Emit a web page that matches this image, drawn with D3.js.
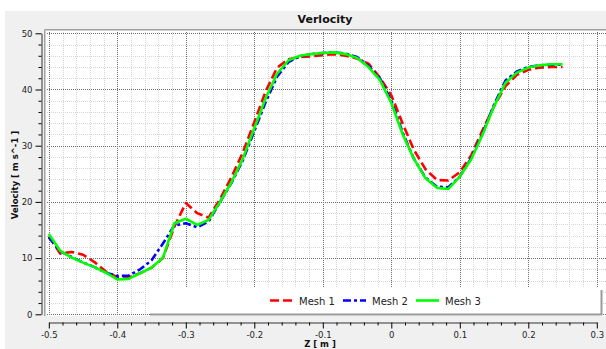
<!DOCTYPE html>
<html><head><meta charset="utf-8">
<script src="https://cdn.jsdelivr.net/npm/d3@7"></script>
<style>
body{margin:0;background:#fff}
svg{display:block}
text{font-family:"DejaVu Sans",Verdana,sans-serif}
</style>
</head><body>
<svg id="c" width="606" height="349"></svg>
<script>
const zValues=[-0.5,-0.4833,-0.4667,-0.45,-0.4333,-0.4167,-0.4,-0.3833,-0.3667,-0.35,-0.3333,-0.3167,-0.3,-0.2833,-0.2667,-0.25,-0.2333,-0.2167,-0.2,-0.1833,-0.1667,-0.15,-0.1333,-0.1167,-0.1,-0.0833,-0.0667,-0.05,-0.0333,-0.0167,0,0.0167,0.0333,0.05,0.0667,0.0833,0.1,0.1167,0.1333,0.15,0.1667,0.1833,0.2,0.2167,0.2333,0.25];
const mesh1=[13.9,10.8,11.1,10.6,9.3,7.6,6.6,6.6,7.3,8.3,10.0,15.6,19.8,18.0,17.2,20.5,24.4,28.8,34.2,39.7,43.9,45.4,45.8,45.9,46.1,46.3,46.0,45.5,44.6,42.1,39.0,33.9,29.2,25.8,23.9,23.8,25.3,28.3,32.8,37.0,40.6,42.6,43.5,43.9,44.0,44.0];
const mesh2=[13.7,11.2,10.2,9.2,8.4,7.4,6.8,6.9,8.0,9.6,12.6,15.8,16.2,15.5,16.5,20.0,23.4,27.4,32.6,37.8,42.3,44.9,45.9,46.3,46.5,46.6,46.4,45.8,44.2,42.0,38.0,32.3,27.6,24.3,22.7,22.6,24.5,27.8,32.2,37.3,41.6,43.2,44.0,44.3,44.4,44.4];
const mesh3=[14.3,11.3,10.1,9.2,8.4,7.4,6.2,6.3,7.3,8.3,10.1,16.2,17.0,15.9,16.8,20.0,23.5,27.7,33.1,38.5,42.8,45.2,46.0,46.3,46.5,46.6,46.3,45.6,44.0,41.7,37.6,32.0,27.6,24.2,22.5,22.3,24.5,27.6,32.0,37.0,41.2,43.0,43.9,44.3,44.5,44.5];
const seriesNames=["Mesh 1","Mesh 2","Mesh 3"];
const seriesColors=["#ff0000","#0000ff","#00ff00"];
const seriesDash=["9,4","8,3,3,3",null];
const xTickValues=[-0.5,-0.4,-0.3,-0.2,-0.1,0,0.1,0.2,0.3];
const xTickLabels=["-0.5","-0.4","-0.3","-0.2","-0.1","0","0.1","0.2","0.3"];
const yTickValues=[0,10,20,30,40,50];
const titleText="Verlocity";
const xLabel="Z [ m ]";
const yLabel="Velocity [ m s^-1 ]";

const svg=d3.select("#c");
// panel background
svg.append("rect").attr("x",5).attr("y",11).attr("width",601).attr("height",338).attr("fill","#f0f0f0");

const P={l:44,t:29,r:606,b:316};
const x=d3.scaleLinear().domain([-0.5,0.3]).range([48.8,596.8]);
const y=d3.scaleLinear().domain([0,50]).range([314.3,33.3]);

// plot area
svg.append("rect").attr("x",P.l).attr("y",P.t).attr("width",P.r-P.l).attr("height",P.b-P.t).attr("fill","#fff");

const grid=svg.append("g");
const minorX=d3.range(-25,16).map(i=>i*0.02);
const minorY=d3.range(0,26).map(i=>i*2);
grid.selectAll(".mvx").data(minorX).join("line")
  .attr("x1",d=>Math.round(x(d))+0.5).attr("x2",d=>Math.round(x(d))+0.5)
  .attr("y1",P.t+1).attr("y2",P.b)
  .attr("stroke","#d6d6d6").attr("stroke-dasharray","1,1");
grid.selectAll(".mhy").data(minorY).join("line")
  .attr("y1",d=>Math.round(y(d))+0.5).attr("y2",d=>Math.round(y(d))+0.5)
  .attr("x1",P.l+1).attr("x2",P.r)
  .attr("stroke","#d6d6d6").attr("stroke-dasharray","1,1");
grid.selectAll(".vx").data(xTickValues).join("line")
  .attr("x1",d=>Math.round(x(d))+0.5).attr("x2",d=>Math.round(x(d))+0.5)
  .attr("y1",P.t+1).attr("y2",P.b)
  .attr("stroke","#6e6e6e").attr("stroke-dasharray","1,1");
grid.selectAll(".hy").data(yTickValues).join("line")
  .attr("y1",d=>Math.round(y(d))+0.5).attr("y2",d=>Math.round(y(d))+0.5)
  .attr("x1",P.l+1).attr("x2",P.r)
  .attr("stroke","#6e6e6e").attr("stroke-dasharray","1,1");

// frame (inset)
svg.append("path").attr("d",`M${P.l+0.5},${P.b}V${P.t+0.5}H${P.r}`).attr("fill","none").attr("stroke","#a0a0a0");
svg.append("path").attr("d",`M${P.l+1.5},${P.b}V${P.t+1.5}H${P.r}`).attr("fill","none").attr("stroke","#cfcfcf");

// clip
svg.append("clipPath").attr("id","clip").append("rect").attr("x",P.l+2).attr("y",P.t+2).attr("width",P.r-P.l-2).attr("height",P.b-P.t-2);

const series=[mesh1,mesh2,mesh3];
const line=d3.line().x(d=>x(d[0])).y(d=>y(d[1]));
const lg=svg.append("g").attr("clip-path","url(#clip)");
series.forEach((vals,i)=>{
  lg.append("path").datum(zValues.map((z,j)=>[z,vals[j]]))
    .attr("d",line).attr("fill","none").attr("stroke",seriesColors[i])
    .attr("stroke-width",2.6).attr("stroke-linejoin","round")
    .attr("stroke-dasharray",seriesDash[i]);
});

// legend
const leg=svg.append("g");
leg.append("path").attr("d","M150,314.5H602M601.5,290V315").attr("stroke","#9a9a9a").attr("stroke-width",2).attr("fill","none");
leg.append("rect").attr("x",147).attr("y",287).attr("width",453).attr("height",26).attr("fill","#fff");
const legX=[270,343,416];
seriesNames.forEach((n,i)=>{
  leg.append("line").attr("x1",legX[i]).attr("x2",legX[i]+23).attr("y1",300.5).attr("y2",300.5)
    .attr("stroke",seriesColors[i]).attr("stroke-width",2.6).attr("stroke-dasharray",seriesDash[i]);
  leg.append("text").attr("x",legX[i]+29).attr("y",305).attr("font-size",10).attr("fill","#222").text(n);
});

// y axis
const yAxis=d3.axisLeft(y).tickValues(yTickValues).tickSize(6).tickSizeOuter(0).tickPadding(3).tickFormat(d3.format("d"));
const ya=svg.append("g").attr("transform","translate(41.5,0)").call(yAxis);
svg.append("g").attr("transform","translate(41.5,0)")
  .call(d3.axisLeft(y).tickValues(minorY.filter(v=>v%10!==0)).tickSize(3).tickSizeOuter(0).tickFormat(""))
  .call(g=>g.select(".domain").remove());
ya.selectAll("text").attr("font-size",8.5).attr("font-family","DejaVu Sans").attr("fill","#222");
ya.select(".domain").attr("stroke","#333");

// x axis
const xAxis=d3.axisBottom(x).tickValues(xTickValues).tickSize(6).tickSizeOuter(0).tickPadding(3)
  .tickFormat((d,i)=>xTickLabels[i]);
const xa=svg.append("g").attr("transform","translate(0,322.5)").call(xAxis);
svg.append("g").attr("transform","translate(0,322.5)")
  .call(d3.axisBottom(x).tickValues(minorX.filter(v=>v>=-0.5&&v<=0.3001&&Math.abs(Math.round(v*10)-v*10)>1e-6)).tickSize(3).tickSizeOuter(0).tickFormat(""))
  .call(g=>g.select(".domain").remove());
xa.selectAll("text").attr("font-size",8.5).attr("font-family","DejaVu Sans").attr("fill","#222");
xa.select(".domain").attr("stroke","#333");

// titles
svg.append("text").attr("x",325).attr("y",23).attr("text-anchor","middle").attr("font-size",11).attr("font-weight","bold").attr("fill","#111").text(titleText);
svg.append("text").attr("x",320).attr("y",347).attr("text-anchor","middle").attr("font-size",8.5).attr("font-weight","bold").attr("fill","#111").text(xLabel);
svg.append("text").attr("transform","translate(18,175) rotate(-90)").attr("text-anchor","middle").attr("font-size",8.5).attr("font-weight","bold").attr("fill","#111").text(yLabel);
</script>
</body></html>
